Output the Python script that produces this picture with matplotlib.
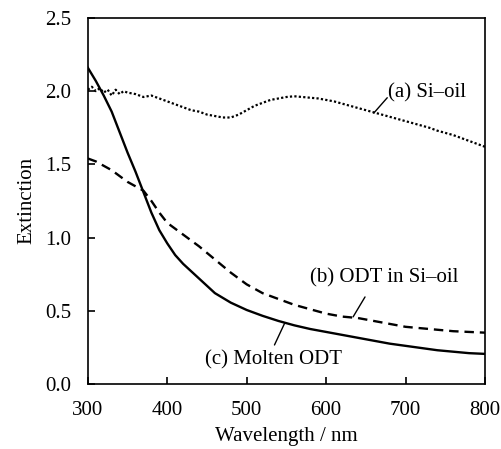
import numpy as np
import matplotlib
matplotlib.use('Agg')
import matplotlib.pyplot as plt

plt.rcParams['font.family'] = ['Liberation Serif', 'DejaVu Serif']

# (a) Si-oil
wl_a = [300, 305, 310, 315, 320, 325, 330, 335, 340, 345, 350, 360, 370, 380, 390, 400, 410, 420,
        430, 440, 450, 460, 470, 480, 490, 500, 510, 520, 530, 540, 550, 560, 570, 580, 590,
        600, 610, 620, 630, 640, 650, 660, 670, 680, 690, 700, 710, 720, 730, 740, 750, 760,
        770, 780, 790, 800]
ext_a = [2.01, 2.03, 2.00, 2.02, 1.99, 2.01, 1.97, 2.01, 1.98, 2.00, 1.99, 1.98, 1.96, 1.97,
         1.95, 1.93, 1.91, 1.89, 1.87, 1.86, 1.84, 1.83, 1.82, 1.82, 1.84, 1.87, 1.90, 1.92,
         1.94, 1.95, 1.96, 1.965, 1.96, 1.955, 1.95, 1.94, 1.93, 1.915, 1.90, 1.885, 1.87,
         1.855, 1.84, 1.825, 1.81, 1.795, 1.78, 1.765, 1.75, 1.73, 1.715, 1.70, 1.68, 1.66,
         1.64, 1.62]

# (b) ODT in Si-oil
wl_b = [300, 310, 320, 330, 340, 350, 360, 370, 380, 390, 400, 420, 440, 460, 480, 500, 520,
        540, 560, 580, 600, 620, 640, 660, 680, 700, 720, 740, 760, 780, 800]
ext_b = [1.54, 1.52, 1.49, 1.46, 1.42, 1.38, 1.35, 1.32, 1.25, 1.17, 1.10, 1.02, 0.94, 0.85,
         0.76, 0.68, 0.62, 0.58, 0.54, 0.51, 0.48, 0.46, 0.45, 0.43, 0.41, 0.39, 0.38, 0.37,
         0.36, 0.355, 0.35]

# (c) Molten ODT
wl_c = [300, 310, 320, 330, 340, 350, 360, 370, 380, 390, 400, 410, 420, 440, 460, 480, 500,
        520, 540, 560, 580, 600, 620, 640, 660, 680, 700, 720, 740, 760, 780, 800]
ext_c = [2.16, 2.07, 1.97, 1.86, 1.72, 1.58, 1.45, 1.31, 1.17, 1.05, 0.96, 0.88, 0.82, 0.72,
         0.62, 0.555, 0.505, 0.465, 0.43, 0.40, 0.375, 0.355, 0.335, 0.315, 0.295, 0.275,
         0.26, 0.245, 0.23, 0.22, 0.21, 0.205]

fig = plt.figure(figsize=(5.02, 4.49), dpi=100)
ax = fig.add_axes([0.175, 0.145, 0.791, 0.815])

ax.plot(wl_a, ext_a, color='black', linestyle=(0, (1, 1)), linewidth=1.6)
ax.plot(wl_b, ext_b, color='black', linestyle=(0, (4, 2.5)), linewidth=1.7)
ax.plot(wl_c, ext_c, color='black', linestyle='-', linewidth=1.7)

ax.set_xlim(300, 800)
ax.set_ylim(0, 2.5)
ax.set_xticks(np.arange(300, 801, 100))
ax.set_yticks(np.arange(0, 2.51, 0.5))
ax.set_yticklabels(['0.0', '0.5', '1.0', '1.5', '2.0', '2.5'])
ax.tick_params(direction='in', length=5, width=1.2, labelsize=15, pad=12)
for s in ax.spines.values():
    s.set_linewidth(1.2)

ax.set_xlabel('Wavelength / nm', fontsize=15, labelpad=5)
ax.set_ylabel('Extinction', fontsize=15, labelpad=6)

# labels with leader lines
ax.text(678, 1.99, '(a) Si\u2013oil', fontsize=15, ha='left', va='center')
ax.annotate('', xy=(660, 1.85), xytext=(677, 1.955),
            arrowprops=dict(arrowstyle='-', color='black', lw=1.0, shrinkA=0, shrinkB=0))
ax.text(580, 0.725, '(b) ODT in Si\u2013oil', fontsize=15, ha='left', va='center')
ax.annotate('', xy=(634, 0.458), xytext=(649, 0.594),
            arrowprops=dict(arrowstyle='-', color='black', lw=1.0, shrinkA=0, shrinkB=0))
ax.text(447, 0.165, '(c) Molten ODT', fontsize=15, ha='left', va='center')
ax.annotate('', xy=(548, 0.417), xytext=(535, 0.266),
            arrowprops=dict(arrowstyle='-', color='black', lw=1.0, shrinkA=0, shrinkB=0))

fig.savefig('out.png', dpi=100)
